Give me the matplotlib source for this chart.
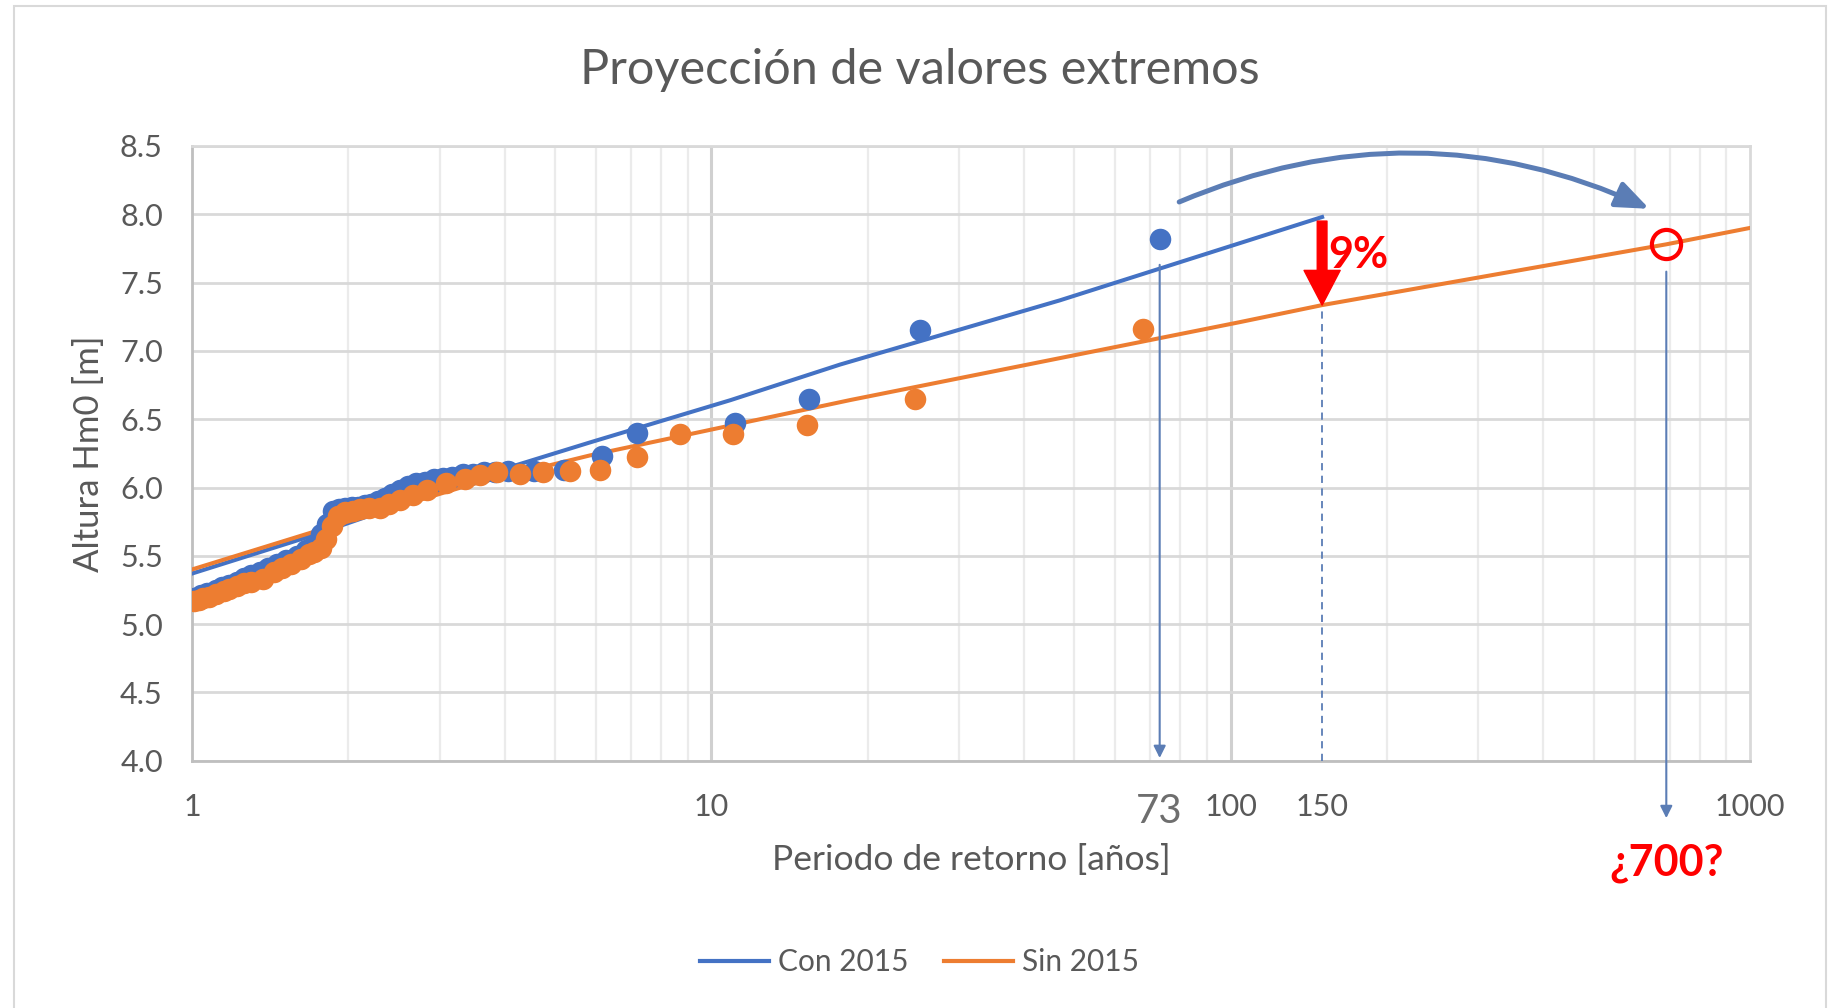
import matplotlib.pyplot as plt
from matplotlib.lines import Line2D
from matplotlib.patches import FancyArrowPatch, Rectangle
from matplotlib.ticker import LogLocator, NullFormatter

plt.rcParams['font.family'] = ['Lato', 'DejaVu Sans']

# puntos (periodo de retorno, altura)
con_T = [1.01, 1.04, 1.07, 1.11, 1.14, 1.18, 1.22, 1.26, 1.30, 1.35, 1.40, 1.46,
         1.52, 1.59, 1.66, 1.72, 1.77, 1.82, 1.87, 1.92, 1.97, 2.03, 2.09, 2.15,
         2.21, 2.28, 2.35, 2.43, 2.52, 2.61, 2.70, 2.81, 2.92, 3.04, 3.17, 3.32,
         3.48, 3.65, 3.84, 4.06, 4.56, 5.21, 6.15, 7.2, 11.1, 15.4, 25.2, 73.0]
con_H = [5.19, 5.21, 5.23, 5.25, 5.27, 5.29, 5.31, 5.34, 5.36, 5.38, 5.41, 5.44,
         5.47, 5.50, 5.54, 5.58, 5.66, 5.73, 5.83, 5.84, 5.85, 5.86, 5.86, 5.87,
         5.88, 5.90, 5.92, 5.95, 5.98, 6.01, 6.03, 6.04, 6.06, 6.07, 6.08, 6.10,
         6.10, 6.11, 6.11, 6.12, 6.12, 6.13, 6.23, 6.40, 6.47, 6.65, 7.15, 7.82]

sin_T = [1.01, 1.03, 1.05, 1.08, 1.11, 1.15, 1.18, 1.22, 1.26, 1.30, 1.37, 1.44,
         1.49, 1.55, 1.62, 1.68, 1.72, 1.77, 1.81, 1.86, 1.91, 1.97, 2.04, 2.11,
         2.19, 2.30, 2.40, 2.52, 2.67, 2.83, 3.09, 3.35, 3.59, 3.86, 4.28, 4.75,
         5.35, 6.1, 7.18, 8.7, 11.0, 15.3, 24.7, 67.9]
sin_H = [5.17, 5.18, 5.19, 5.20, 5.22, 5.24, 5.26, 5.28, 5.30, 5.31, 5.33, 5.38,
         5.41, 5.44, 5.48, 5.51, 5.53, 5.56, 5.62, 5.72, 5.79, 5.82, 5.83, 5.84,
         5.85, 5.85, 5.88, 5.91, 5.945, 5.98, 6.03, 6.06, 6.09, 6.11, 6.10, 6.11,
         6.12, 6.13, 6.22, 6.39, 6.39, 6.46, 6.65, 7.16]

# lineas de ajuste
con_fit_T = [1, 1.68, 4.1, 5.84, 10.9, 17.7, 46.9, 150]
con_fit_H = [5.37, 5.64, 6.15, 6.33, 6.64, 6.90, 7.37, 7.98]
sin_fit_T = [1, 1.68, 3.43, 5.84, 18.5, 104, 150, 690, 1000]
sin_fit_H = [5.40, 5.665, 6.02, 6.235, 6.64, 7.21, 7.335, 7.78, 7.90]

x_ticks = [1, 10, 73, 100, 150, 1000]
x_labels = ['1', '10', '73', '100', '150', '1000']
y_ticks = [4.0, 4.5, 5.0, 5.5, 6.0, 6.5, 7.0, 7.5, 8.0, 8.5]

T_73, T_150, T_700 = 73, 150, 690

azul = '#4472C4'
naranja = '#ED7D31'
flecha = '#5B7DB5'
gris = '#595959'

fig = plt.figure(figsize=(18.39, 10.08), dpi=100)
fig.patches.append(Rectangle((14 / 1839, -0.05), 1812 / 1839, 1.05 - 6 / 1008,
                             transform=fig.transFigure, fill=False,
                             edgecolor='#D9D9D9', lw=1.5))
ax = fig.add_axes([0.1044, 0.2453, 0.8472, 0.6099])

ax.set_xscale('log')
ax.set_xlim(1, 1000)
ax.set_ylim(4, 8.5)

# rejilla
ax.xaxis.set_minor_locator(LogLocator(base=10, subs=range(2, 10)))
ax.xaxis.set_minor_formatter(NullFormatter())
ax.grid(which='minor', axis='x', color='#EBEBEB', lw=1.6, zorder=0)
for d in [10, 100]:
    ax.axvline(d, color='#D0D0D0', lw=2.2, zorder=0)
ax.set_yticks(y_ticks)
ax.set_yticklabels(['%.1f' % v for v in y_ticks])
ax.yaxis.grid(True, color='#D9D9D9', lw=2, zorder=0)
ax.set_axisbelow(True)

ax.set_xticks(x_ticks)
ax.set_xticklabels(x_labels)
ax.tick_params(which='both', length=0, labelsize=22, labelcolor=gris)
ax.tick_params(axis='y', pad=21)
ax.tick_params(axis='x', pad=23)
lab73 = ax.get_xticklabels()[2]
lab73.set_fontsize(29)
lab73.set_color('#6E6E6E')

for s in ['left', 'bottom']:
    ax.spines[s].set_color('#BFBFBF')
    ax.spines[s].set_linewidth(2)
for s in ['top', 'right']:
    ax.spines[s].set_color('#D9D9D9')
    ax.spines[s].set_linewidth(2)

# lineas y puntos
ax.plot(con_fit_T, con_fit_H, color=azul, lw=2.9, zorder=3)
ax.plot(sin_fit_T, sin_fit_H, color=naranja, lw=2.9, zorder=3)
ax.plot(con_T, con_H, 'o', color=azul, ms=15.5, mew=0, zorder=4)
ax.plot(sin_T, sin_H, 'o', color=naranja, ms=15.5, mew=0, zorder=5)

# anotaciones
ax.annotate('', xy=(T_73, 4.02), xytext=(T_73, 7.63),
            arrowprops=dict(arrowstyle='-|>', color=flecha, lw=1.5,
                            mutation_scale=18, shrinkA=0, shrinkB=0), zorder=6)
ax.plot([T_150, T_150], [4.0, 7.32], color=flecha, lw=1.3, ls=(0, (4, 3)), zorder=6)
ax.annotate('', xy=(T_700, 3.58), xytext=(T_700, 7.58), annotation_clip=False,
            arrowprops=dict(arrowstyle='-|>', color=flecha, lw=1.5,
                            mutation_scale=18, shrinkA=0, shrinkB=0), zorder=6)
ax.annotate('', xy=(T_150, 7.335), xytext=(T_150, 7.95),
            arrowprops=dict(width=7, headwidth=26, headlength=25, shrink=0,
                            facecolor='red', edgecolor='red'), zorder=7)
ax.plot([T_700], [7.78], 'o', mfc='none', mec='red', ms=21, mew=3, zorder=7)
ax.text(176, 7.70, '9%', color='red', fontsize=31, fontweight='bold',
        ha='center', va='center', zorder=7)
ax.text(T_700, 3.25, '¿700?', color='red', fontsize=31, fontweight='bold',
        ha='center', va='center', clip_on=False)
arco = FancyArrowPatch((79.6, 8.09), (640, 8.04), connectionstyle='arc3,rad=-0.22',
                       arrowstyle='-|>,head_length=0.8,head_width=0.32',
                       mutation_scale=25, color=flecha, lw=3.6, clip_on=False,
                       shrinkA=0, shrinkB=0, zorder=7)
ax.add_patch(arco)

fig.text(0.5, 1 - 70 / 1008, 'Proyección de valores extremos', fontsize=35,
         color=gris, ha='center', va='center')
fig.text(971 / 1839, 1 - 860 / 1008, 'Periodo de retorno [años]', fontsize=25.5,
         color=gris, ha='center', va='center')
fig.text(89 / 1839, 1 - 454 / 1008, 'Altura Hm0 [m]', fontsize=25, color=gris,
         rotation=90, ha='center', va='center')

handles = [Line2D([], [], color=azul, lw=3), Line2D([], [], color=naranja, lw=3)]
leg = fig.legend(handles, ['Con 2015', 'Sin 2015'], loc='center',
                 bbox_to_anchor=(0.5, 1 - 962 / 1008), ncol=2, frameon=False,
                 fontsize=21.5, handlelength=2.3, handletextpad=0.3, columnspacing=1.2)
for t in leg.get_texts():
    t.set_color(gris)

fig.savefig('out.png', dpi=100)
